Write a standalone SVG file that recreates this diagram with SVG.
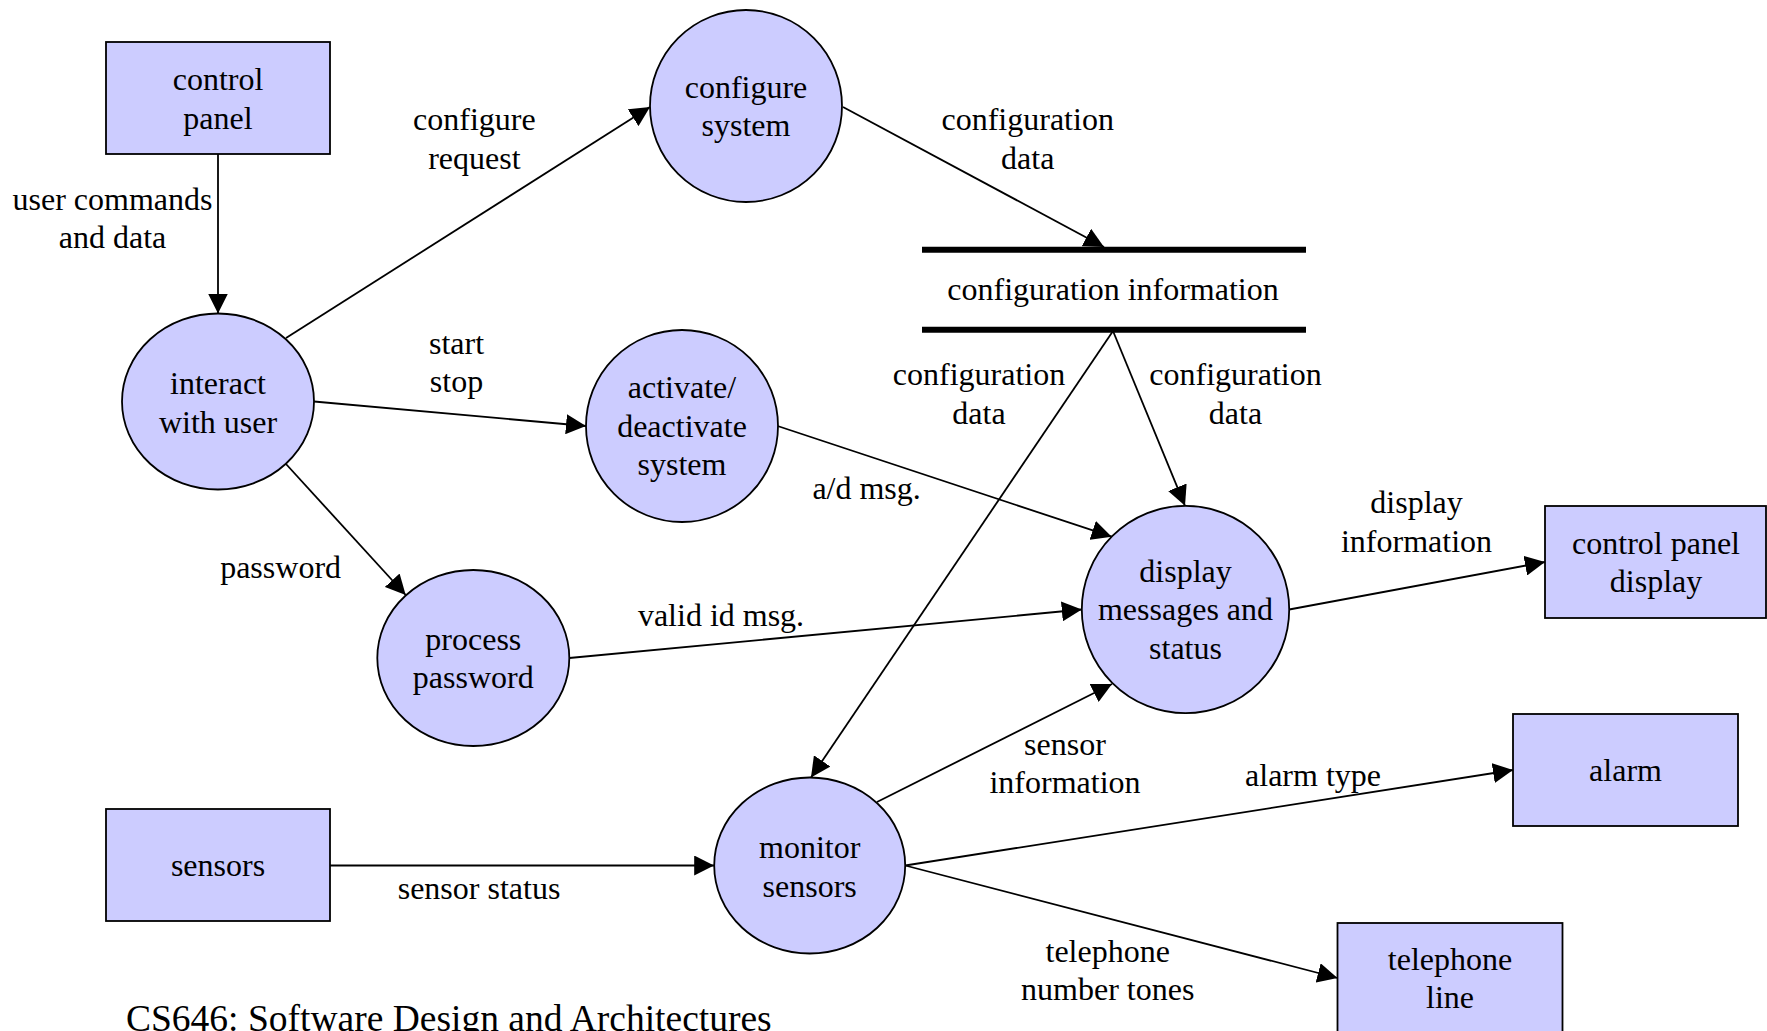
<svg xmlns="http://www.w3.org/2000/svg" width="1767" height="1031" viewBox="0 0 1767 1031">
  <style>
    .node { fill: #ccccff; stroke: #000; stroke-width: 1.8; }
    .flow { fill: none; stroke: #000; stroke-width: 1.8; }
    .store { stroke: #000; stroke-width: 6; }
    text { font-family: "Liberation Serif", "Times New Roman", serif; font-size: 32px; fill: #000; text-anchor: middle; }
    .title { font-size: 37.5px; text-anchor: start; }
  </style>
  <defs>
    <marker id="arrow" markerUnits="userSpaceOnUse" markerWidth="20" markerHeight="20" refX="20" refY="10" orient="auto">
      <path d="M0,0 L20,10 L0,20 z" fill="#000"/>
    </marker>
  </defs>

  <rect width="1767" height="1031" fill="#fff"/>

  <!-- data flows -->
  <g id="connectors" marker-end="url(#arrow)">
    <line class="flow" x1="218" y1="154" x2="218" y2="313.5"/>
    <line class="flow" x1="286" y1="338" x2="650" y2="107"/>
    <line class="flow" x1="843" y1="107" x2="1104" y2="247"/>
    <line class="flow" x1="314" y1="401.5" x2="586" y2="426"/>
    <line class="flow" x1="286" y1="464" x2="405.7" y2="595"/>
    <line class="flow" x1="777.6" y1="426" x2="1111.7" y2="536.7"/>
    <line class="flow" x1="1113" y1="331" x2="1185" y2="505.8"/>
    <line class="flow" x1="1113" y1="331" x2="811" y2="777.5"/>
    <line class="flow" x1="569.3" y1="658" x2="1081.8" y2="609.5"/>
    <line class="flow" x1="1289.2" y1="609.5" x2="1545" y2="562"/>
    <line class="flow" x1="877" y1="802" x2="1112" y2="684"/>
    <line class="flow" x1="330" y1="865.5" x2="714.2" y2="865.5"/>
    <line class="flow" x1="905.2" y1="865.5" x2="1513" y2="770"/>
    <line class="flow" x1="905.2" y1="865.5" x2="1337.5" y2="978"/>
  </g>

  <!-- flow labels -->
  <g id="flow-labels">
    <text x="112.5" y="209.5">user commands</text>
    <text x="112.5" y="248">and data</text>
    <text x="474.4" y="130">configure</text>
    <text x="474.4" y="168.5">request</text>
    <text x="1027.7" y="130">configuration</text>
    <text x="1027.7" y="168.5">data</text>
    <text x="456.5" y="353.5">start</text>
    <text x="456.5" y="392">stop</text>
    <text x="280.6" y="577.5">password</text>
    <text x="866.6" y="498.5">a/d msg.</text>
    <text x="979" y="385">configuration</text>
    <text x="979" y="423.5">data</text>
    <text x="1235.5" y="385">configuration</text>
    <text x="1235.5" y="423.5">data</text>
    <text x="721" y="625.5">valid id msg.</text>
    <text x="1416.5" y="513">display</text>
    <text x="1416.5" y="551.5">information</text>
    <text x="1065" y="754.5">sensor</text>
    <text x="1065" y="793">information</text>
    <text x="479" y="898.5">sensor status</text>
    <text x="1313" y="786">alarm type</text>
    <text x="1107.7" y="961.5">telephone</text>
    <text x="1107.7" y="1000">number tones</text>
  </g>

  <!-- data store -->
  <g id="store-configuration-information">
    <line class="store" x1="922" y1="249.7" x2="1306" y2="249.7"/>
    <line class="store" x1="922" y1="329.7" x2="1306" y2="329.7"/>
    <text x="1113" y="300">configuration information</text>
  </g>

  <!-- external entities -->
  <g id="control-panel">
    <rect class="node" x="106" y="42" width="224" height="112"/>
    <text x="218" y="90">control</text>
    <text x="218" y="128.5">panel</text>
  </g>
  <g id="sensors">
    <rect class="node" x="106" y="809" width="224" height="112"/>
    <text x="218" y="876">sensors</text>
  </g>
  <g id="control-panel-display">
    <rect class="node" x="1545" y="506" width="221" height="112"/>
    <text x="1656" y="553.5">control panel</text>
    <text x="1656" y="592">display</text>
  </g>
  <g id="alarm">
    <rect class="node" x="1513" y="714" width="225" height="112"/>
    <text x="1625.5" y="780.5">alarm</text>
  </g>
  <g id="telephone-line">
    <rect class="node" x="1337.5" y="923" width="225" height="112"/>
    <text x="1450" y="969.5">telephone</text>
    <text x="1450" y="1008">line</text>
  </g>

  <!-- processes -->
  <g id="interact-with-user">
    <ellipse class="node" cx="218" cy="401.5" rx="96" ry="88"/>
    <text x="218" y="394">interact</text>
    <text x="218" y="432.5">with user</text>
  </g>
  <g id="configure-system">
    <ellipse class="node" cx="746" cy="106" rx="96" ry="96"/>
    <text x="746" y="97.5">configure</text>
    <text x="746" y="136">system</text>
  </g>
  <g id="activate-deactivate-system">
    <ellipse class="node" cx="682" cy="426" rx="96" ry="96"/>
    <text x="682" y="398">activate/</text>
    <text x="682" y="436.5">deactivate</text>
    <text x="682" y="475">system</text>
  </g>
  <g id="process-password">
    <ellipse class="node" cx="473.3" cy="658" rx="96" ry="88"/>
    <text x="473.3" y="649.5">process</text>
    <text x="473.3" y="688">password</text>
  </g>
  <g id="display-messages-and-status">
    <ellipse class="node" cx="1185.5" cy="609.5" rx="103.7" ry="103.7"/>
    <text x="1185.5" y="581.5">display</text>
    <text x="1185.5" y="620">messages and</text>
    <text x="1185.5" y="658.5">status</text>
  </g>
  <g id="monitor-sensors">
    <ellipse class="node" cx="809.7" cy="865.5" rx="95.5" ry="88"/>
    <text x="809.7" y="858">monitor</text>
    <text x="809.7" y="896.5">sensors</text>
  </g>

  <text class="title" x="126" y="1031">CS646: Software Design and Architectures</text>
</svg>
